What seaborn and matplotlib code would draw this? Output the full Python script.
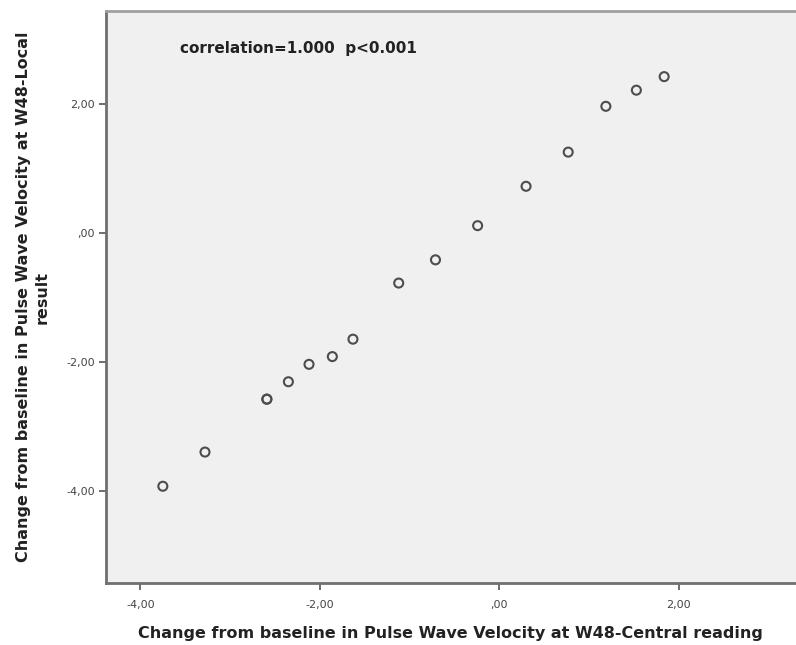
import matplotlib
matplotlib.use("Agg")
import matplotlib.pyplot as plt
import seaborn as sns
import pandas as pd

# Data
central = [-3.75, -3.28, -2.59, -2.59, -2.35, -2.12, -1.86, -1.63,
           -1.12, -0.71, -0.24, 0.30, 0.77, 1.19, 1.53, 1.84]
local = [-3.93, -3.40, -2.58, -2.58, -2.31, -2.04, -1.92, -1.65,
         -0.78, -0.42, 0.11, 0.72, 1.25, 1.96, 2.21, 2.42]
x_ticks = [-4, -2, 0, 2]
x_tick_labels = ["-4,00", "-2,00", ",00", "2,00"]
y_ticks = [-4, -2, 0, 2]
y_tick_labels = ["-4,00", "-2,00", ",00", "2,00"]
annotation = "correlation=1.000  p<0.001"
x_label = "Change from baseline in Pulse Wave Velocity at W48-Central reading"
y_label = "Change from baseline in Pulse Wave Velocity at W48-Local\nresult"

df = pd.DataFrame({"central": central, "local": local})

sns.set_style("white")
plt.rcParams["font.family"] = ["DejaVu Sans"]

fig = plt.figure(figsize=(7.96, 6.45), dpi=100)
ax = fig.add_axes([0.1328, 0.0961, 0.8672, 0.8861])
ax.set_facecolor("#f0f0f0")

sns.scatterplot(data=df, x="central", y="local", ax=ax, marker="o", s=42,
                facecolors="none", edgecolor="#4d4d4d", linewidth=1.5,
                legend=False, zorder=3)

ax.set_xlim(-4.387, 3.31)
ax.set_ylim(-5.43, 3.43)
ax.set_xticks(x_ticks)
ax.set_xticklabels(x_tick_labels)
ax.set_yticks(y_ticks)
ax.set_yticklabels(y_tick_labels)
ax.tick_params(axis="both", direction="out", length=5, width=1.2,
               color="#555555", labelsize=8, labelcolor="#444444")
ax.tick_params(axis="x", bottom=True, pad=7)
ax.tick_params(axis="y", left=True, pad=3)

for side in ["left", "bottom"]:
    ax.spines[side].set_color("#707070")
    ax.spines[side].set_linewidth(2)
ax.spines["top"].set_color("#a0a0a0")
ax.spines["top"].set_linewidth(2)
ax.spines["right"].set_visible(False)

ax.set_xlabel(x_label, fontsize=11.5, fontweight="bold", color="#222222", labelpad=12)
ax.set_ylabel(y_label, fontsize=11.5, fontweight="bold", color="#222222", labelpad=12,
              linespacing=1.25)

ax.text(0.1076, 0.936, annotation, transform=ax.transAxes, fontsize=11,
        fontweight="bold", color="#222222", va="center", ha="left")

fig.savefig("out.png", dpi=100)
